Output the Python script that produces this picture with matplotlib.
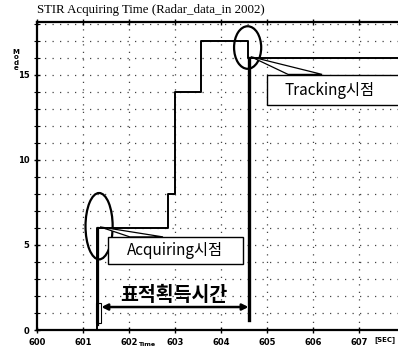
import numpy as np
import matplotlib
matplotlib.use("Agg")
import matplotlib.pyplot as plt
from matplotlib.patches import Ellipse, Rectangle, Polygon

plt.rcParams['font.family'] = ['Noto Sans CJK KR', 'DejaVu Sans']

# 모드 변화 (시간[sec], 모드)
t_sec = [600.0, 601.30, 602.85, 603.0, 603.57, 604.59, 607.85]
mode = [0, 6, 8, 14, 17, 16, 16]

t_acq = 601.33     # Acquiring 시점
t_trk = 604.60     # Tracking 시점

xticks = [600, 601, 602, 603, 604, 605, 606, 607]
yticks = [0, 5, 10, 15]

fig = plt.figure(figsize=(3.98, 3.48), dpi=100)
ax = fig.add_axes([37/398, 1-330/348, 1-37/398, (330-22)/348])
ax.set_xlim(600, 607.85)
ax.set_ylim(0, 18.1)

# 점선 격자
for x in range(601, 608):
    ax.axvline(x, color='#444444', lw=0.9, ls=(0, (1, 5)), zorder=1)
for y in range(1, 19):
    ax.axhline(y, color='#444444', lw=0.9, ls=(0, (1, 5)), zorder=1)

ax.plot(t_sec, mode, drawstyle='steps-post', color='black', lw=1.4, zorder=3)

# 획득 구간 표시선
ax.plot([t_acq, t_acq], [0.3, 6.0], color='black', lw=1.6, zorder=3)
ax.plot([t_trk, t_trk], [0.6, 16.0], color='black', lw=2.4, zorder=3)
ax.add_patch(Rectangle((601.29, 0.4), 0.10, 1.2, fill=False, lw=0.8, zorder=4))
ax.annotate('', xy=(601.40, 1.35), xytext=(t_trk, 1.35),
            arrowprops=dict(arrowstyle='<|-|>', lw=1.8, color='black',
                            mutation_scale=9, shrinkA=0, shrinkB=0), zorder=4)
ax.text(602.98, 2.05, '표적획득시간', fontsize=14, fontweight='bold',
        ha='center', va='center', zorder=5)

# 시점 표시 타원
ax.add_patch(Ellipse((601.35, 6.1), 0.59, 3.9, fill=False, lw=1.6, zorder=4))
ax.add_patch(Ellipse((604.58, 16.6), 0.59, 2.5, fill=False, lw=1.6, zorder=4))

# 말풍선: Acquiring
ax.add_patch(Polygon([(601.37, 6.06), (602.02, 5.47), (602.74, 5.47)],
                     closed=True, fc='white', ec='black', lw=0.9, zorder=5))
ax.add_patch(Rectangle((601.54, 3.88), 604.48-601.54, 5.47-3.88,
                       fc='white', ec='black', lw=1.0, zorder=5))
ax.text(603.01, 4.68, 'Acquiring시점', fontsize=11, fontweight='medium',
        ha='center', va='center', zorder=6)

# 말풍선: Tracking
ax.add_patch(Polygon([(604.65, 16.06), (605.46, 15.02), (606.2, 15.02)],
                     closed=True, fc='white', ec='black', lw=0.9, zorder=5))
ax.add_patch(Rectangle((605.0, 13.24), 3.0, 15.0-13.24,
                       fc='white', ec='black', lw=1.0, zorder=5, clip_on=True))
ax.text(606.36, 14.1, 'Tracking시점', fontsize=11, fontweight='medium',
        ha='center', va='center', zorder=6)

ax.spines['right'].set_visible(False)
for s in ['left', 'top', 'bottom']:
    ax.spines[s].set_linewidth(1.6)

ax.set_xticks(xticks)
ax.set_xticklabels([str(x) for x in xticks], fontsize=6, fontweight='bold',
                   family='DejaVu Sans')
ax.set_yticks(yticks)
ax.set_yticklabels([str(y) for y in yticks], fontsize=6, fontweight='bold',
                   family='DejaVu Sans')
ax.set_yticks(range(0, 19), minor=True)
ax.tick_params(axis='both', which='major', direction='inout', length=5, width=1.0, pad=3)
ax.tick_params(axis='y', which='minor', direction='inout', length=4, width=0.8)
ax.tick_params(axis='x', top=True, direction='inout')

fig.text(37/398, 1-10/348, 'STIR Acquiring Time (Radar_data_in 2002)',
         family='Liberation Serif', fontsize=9.3, ha='left', va='center')
fig.text(16/398, 1-60/348, 'M\no\nd\ne', family='DejaVu Sans', fontsize=5,
         fontweight='bold', ha='center', va='center', linespacing=0.9)
fig.text(147/398, 1-344/348, 'Time', family='DejaVu Sans', fontsize=4.5,
         fontweight='bold', ha='center', va='center')
fig.text(385/398, 1-340/348, '[SEC]', family='DejaVu Sans', fontsize=5,
         fontweight='bold', ha='center', va='center')

fig.savefig('out.png', dpi=100)
